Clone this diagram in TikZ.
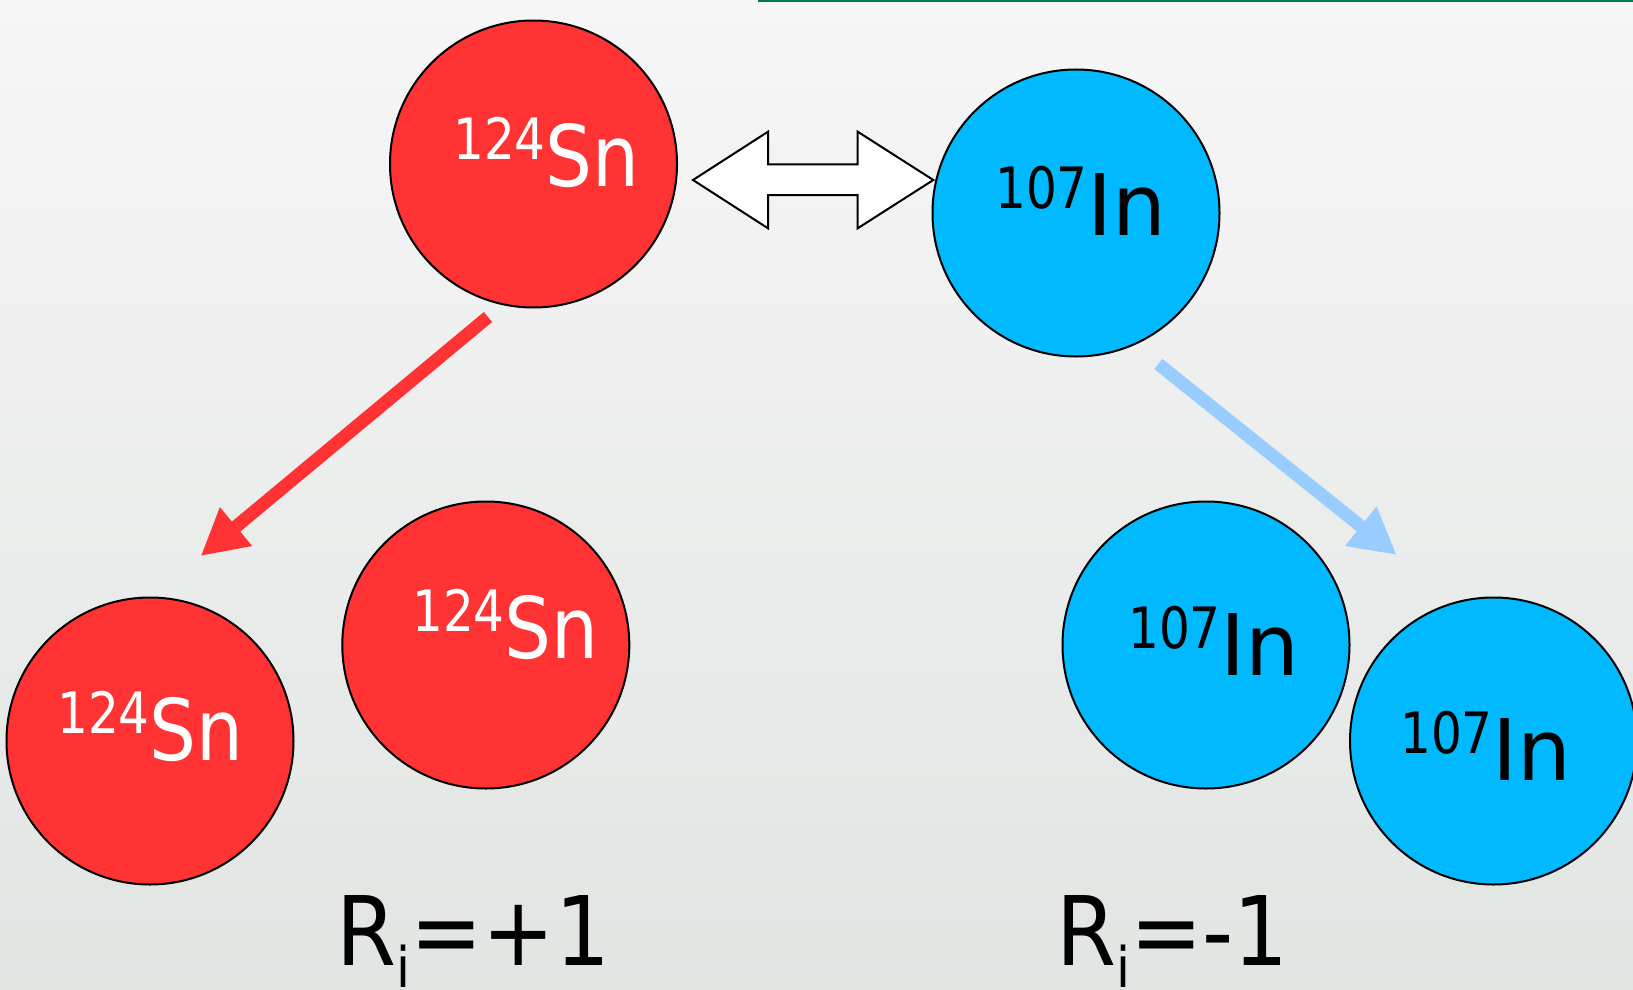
\documentclass[tikz,border=0pt]{standalone}
\usepackage{fontspec}
\setmainfont{DejaVu Sans}
\newfontfamily\supfont[FakeStretch=0.85]{DejaVu Sans}
\newfontfamily\snfont[FakeStretch=0.87]{DejaVu Sans}
\newfontfamily\infont[FakeStretch=1.0]{DejaVu Sans}
\newfontfamily\rfont[FakeStretch=0.9]{DejaVu Sans}
\usetikzlibrary{arrows.meta}
\definecolor{nucred}{RGB}{255,51,51}
\definecolor{nucblue}{RGB}{0,185,255}
\definecolor{arrblue}{RGB}{153,204,255}
\definecolor{bgtop}{RGB}{246,246,246}
\definecolor{bgbot}{RGB}{225,229,226}
\definecolor{topgreen}{RGB}{0,122,77}
\newcommand{\tinlabel}{{\raisebox{27pt}{\supfont\fontsize{57}{57}\selectfont 124}\snfont\fontsize{85}{85}\selectfont Sn}}
\newcommand{\indlabel}{{\raisebox{27pt}{\supfont\fontsize{57}{57}\selectfont 107}\infont\fontsize{85}{85}\selectfont In}}
\newcommand{\rlabel}[1]{{\rfont\fontsize{96}{96}\selectfont R\raisebox{-22pt}{\fontsize{56}{56}\selectfont i}#1}}
\begin{document}
\begin{tikzpicture}[x=1pt,y=-1pt,
  nucleus/.style={circle,draw=black,line width=2pt,minimum size=287pt,inner sep=0pt},
  tinnuc/.style={nucleus,fill=nucred},
  indnuc/.style={nucleus,fill=nucblue},
  isolbl/.style={anchor=base west,inner sep=0pt},
  flowarrow/.style={line width=13pt,-{Triangle[length=46pt,width=47pt]}},
  exchange/.style={draw=black,fill=white,line width=2pt,line join=miter}
]
\useasboundingbox (0,0) rectangle (1633,990);
\clip (0,0) rectangle (1633,990);
\fill[top color=bgtop,bottom color=bgbot] (0,0) rectangle (1633,990);
\draw[topgreen,line width=2.2pt] (758,1) -- (1633,1);

% nuclei
\node[tinnuc] (snTop) at (533.5,164) {};
\node[indnuc] (inTop) at (1076,213) {};
\node[tinnuc] (snL) at (150,741) {};
\node[tinnuc] (snR) at (485.8,645) {};
\node[indnuc] (inL) at (1206,645) {};
\node[indnuc] (inR) at (1493.5,741) {};

% labels
\node[isolbl,text=white] (snTopTxt) at (453,186.7) {\tinlabel};
\node[isolbl,text=black] (inTopTxt) at (995,235) {\indlabel};
\node[isolbl,text=white] (snLTxt) at (57,760.7) {\tinlabel};
\node[isolbl,text=white] (snRTxt) at (412,658.3) {\tinlabel};
\node[isolbl,text=black] (inLTxt) at (1128,675) {\indlabel};
\node[isolbl,text=black] (inRTxt) at (1400,780) {\indlabel};

% exchange double arrow
\draw[exchange] (693,180) -- (768,131.7) -- (768,164.3) -- (857.7,164.3) -- (857.7,131.7)
  -- (933.3,180) -- (857.7,228.3) -- (857.7,195) -- (768,195) -- (768,228.3) -- cycle;

% flow arrows
\coordinate (redS) at (488,317);
\coordinate (redE) at (200.7,556);
\coordinate (blueS) at (1158.3,364);
\coordinate (blueE) at (1396.7,555);
\draw[flowarrow,nucred] (redS) -- (redE);
\draw[flowarrow,arrblue] (blueS) -- (blueE);

% R_i labels
\node[isolbl] (rPlus) at (336,965) {\rlabel{=+1}};
\node[isolbl] (rMinus) at (1056,965) {\rlabel{=-1}};
\end{tikzpicture}
\end{document}
